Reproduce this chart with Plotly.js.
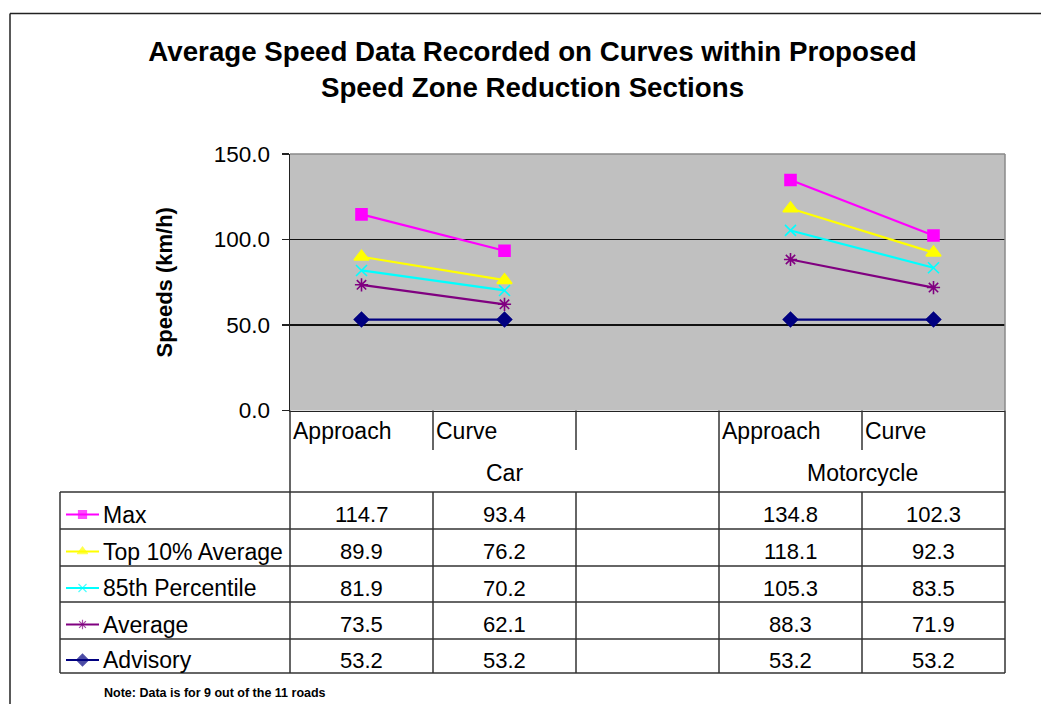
<!DOCTYPE html>
<html>
<head>
<meta charset="utf-8">
<script src="https://cdn.plot.ly/plotly-3.0.1.min.js"></script>
<style>html,body{margin:0;padding:0;background:#fff;}#chart{width:1041px;height:704px;}</style>
</head>
<body>
<div id="chart"></div>
<script>
// ---- data ----
var categories = ['Approach', 'Curve', '', 'Approach', 'Curve'];
var groups = ['Car', 'Car', 'Car', 'Motorcycle', 'Motorcycle'];
var seriesNames = ['Max', 'Top 10% Average', '85th Percentile', 'Average', 'Advisory'];
var maxSpeeds = [114.7, 93.4, null, 134.8, 102.3];
var top10Speeds = [89.9, 76.2, null, 118.1, 92.3];
var p85Speeds = [81.9, 70.2, null, 105.3, 83.5];
var avgSpeeds = [73.5, 62.1, null, 88.3, 71.9];
var advisorySpeeds = [53.2, 53.2, null, 53.2, 53.2];
var yTicks = [0, 50, 100, 150];

// ---- styles ----
var seriesValues = [maxSpeeds, top10Speeds, p85Speeds, avgSpeeds, advisorySpeeds];
var styles = [
  {color: '#FF00FF', symbol: 'square', size: 11, keySize: 8},
  {color: '#FFFF00', symbol: 'triangle-up', size: 13, keySize: 9},
  {color: '#00FFFF', symbol: 'x-thin-open', size: 11, keySize: 8},
  {color: '#800080', symbol: 'asterisk-open', size: 11, keySize: 8},
  {color: '#000080', symbol: 'diamond', size: 11, keySize: 9}
];
var FONT = 'Liberation Sans, Arial, sans-serif';
var TXT = 23, NUM = 22;
var W = 1041, H = 704;
function X(p) { return p / W; }
function Y(p) { return 1 - p / H; }

// layout geometry (pixels)
var plotL = 290, plotR = 1005, plotT = 154, plotB = 410.5;
var tableL = 60, headDiv = 450, tableTop = 492;
var rowLines = [492, 529, 566, 602, 639, 673];
var lineCol = '#333333';

var xIdx = categories.map(function (c, i) { return i; });
var traces = [];
seriesNames.forEach(function (name, i) {
  var st = styles[i];
  traces.push({
    type: 'scatter', mode: 'lines+markers', name: name,
    x: xIdx, y: seriesValues[i], connectgaps: false,
    line: {color: st.color, width: 2.2},
    marker: {symbol: st.symbol, size: st.size, color: st.color, line: {color: st.color, width: 1.6}},
    xaxis: 'x', yaxis: 'y', showlegend: false, hoverinfo: 'x+y'
  });
});

var shapes = [];
var annotations = [];
// gray plot area (drawn as shape so the table overlay stays white)
shapes.push({type: 'rect', xref: 'paper', yref: 'paper', x0: X(plotL), x1: X(plotR), y0: Y(plotB), y1: Y(plotT),
  fillcolor: '#C0C0C0', line: {width: 0}, layer: 'below'});

// legend keys inside the data table (overlay axes in pixel units)
seriesNames.forEach(function (name, i) {
  var st = styles[i];
  var cy = (rowLines[i] + rowLines[i + 1]) / 2 + 4;
  traces.push({
    type: 'scatter', mode: 'lines+markers', x: [66, 82.5, 99], y: [cy, cy, cy],
    line: {color: st.color, width: 2},
    marker: {symbol: st.symbol, size: [0, st.keySize, 0], color: st.color, line: {color: st.color, width: 1.2}},
    xaxis: 'x2', yaxis: 'y2', showlegend: false, hoverinfo: 'skip'
  });
  annotations.push({
    xref: 'paper', yref: 'paper', x: X(101), y: Y(cy), xanchor: 'left', yanchor: 'middle',
    text: name, showarrow: false, font: {family: FONT, size: TXT, color: '#000'}
  });
  seriesValues[i].forEach(function (v, j) {
    if (v === null) return;
    annotations.push({
      xref: 'x', yref: 'paper', x: j, y: Y(cy), xanchor: 'center', yanchor: 'middle',
      text: v.toFixed(1), showarrow: false, font: {family: FONT, size: NUM, color: '#000'}
    });
  });
});

// category labels
categories.forEach(function (c, j) {
  if (!c) return;
  annotations.push({
    xref: 'x', yref: 'paper', x: j - 0.5, xshift: 1, y: Y(431), xanchor: 'left', yanchor: 'middle',
    text: c, showarrow: false, font: {family: FONT, size: TXT, color: '#000'}
  });
});
// group labels
var groupSpans = [];
groups.forEach(function (g, j) {
  var last = groupSpans[groupSpans.length - 1];
  if (last && last.name === g) { last.end = j; } else { groupSpans.push({name: g, start: j, end: j}); }
});
groupSpans.forEach(function (gs) {
  annotations.push({
    xref: 'x', yref: 'paper', x: (gs.start + gs.end) / 2, y: Y(473), xanchor: 'center', yanchor: 'middle',
    text: gs.name, showarrow: false, font: {family: FONT, size: TXT, color: '#000'}
  });
});
// note
annotations.push({
  xref: 'paper', yref: 'paper', x: X(102), y: Y(693), xanchor: 'left', yanchor: 'middle',
  text: 'Note: Data is for 9 out of the 11 roads', showarrow: false,
  font: {family: FONT, size: 12.5, color: '#000', weight: 'bold'}
});

// ---- lines: frame, plot border, table grid ----
function hline(y, x0, x1, col, w) {
  shapes.push({type: 'line', xref: 'paper', yref: 'paper', x0: X(x0), x1: X(x1), y0: Y(y), y1: Y(y),
    line: {color: col || lineCol, width: w || 1.5}, layer: 'above'});
}
function vline(x, y0, y1, col, w) {
  shapes.push({type: 'line', xref: 'paper', yref: 'paper', x0: X(x), x1: X(x), y0: Y(y0), y1: Y(y1),
    line: {color: col || lineCol, width: w || 1.5}, layer: 'above'});
}
// outer chart frame
hline(13.5, 10, 1060, '#222', 1.5);
vline(10, 13.5, 720, '#222', 1.5);
// plot area gray border (top/right)
hline(plotT, plotL, plotR, '#8a8a8a', 1.5);
vline(plotR, plotT, plotB, '#8a8a8a', 1.5);
// column boundaries from the category positions
var colEdges = [];
for (var k = 0; k <= categories.length; k++) { colEdges.push(plotL + (plotR - plotL) * k / categories.length); }
var groupEdgeIdx = {};
groupSpans.forEach(function (gs) { groupEdgeIdx[gs.start] = true; groupEdgeIdx[gs.end + 1] = true; });
colEdges.forEach(function (xp, k) {
  if (groupEdgeIdx[k]) { vline(xp, plotB, rowLines[rowLines.length - 1]); }
  else { vline(xp, plotB, headDiv); vline(xp, tableTop, rowLines[rowLines.length - 1]); }
});
vline(tableL, tableTop, rowLines[rowLines.length - 1]);
rowLines.forEach(function (yp) { hline(yp, tableL, plotR); });

var layout = {
  width: W, height: H,
  margin: {l: 0, r: 0, t: 0, b: 0},
  paper_bgcolor: '#ffffff',
  plot_bgcolor: 'rgba(0,0,0,0)',
  showlegend: false,
  font: {family: FONT, color: '#000'},
  title: {
    text: 'Average Speed Data Recorded on Curves within Proposed<br>Speed Zone Reduction Sections',
    x: X(532.5), xanchor: 'center', xref: 'paper', y: Y(61), yanchor: 'top', yref: 'paper',
    font: {family: FONT, size: 27.7, color: '#000', weight: 'bold'}
  },
  xaxis: {
    domain: [X(plotL), X(plotR)], range: [-0.5, categories.length - 0.5],
    showgrid: false, zeroline: false, showticklabels: false, ticks: '',
    showline: true, linecolor: '#222', linewidth: 1.5, fixedrange: true
  },
  yaxis: {
    domain: [Y(plotB), Y(plotT)], range: [0, 150],
    tickvals: yTicks, tickformat: '.1f', ticks: 'outside', ticklen: 7, tickwidth: 1.5, tickcolor: '#222',
    ticklabelstandoff: 7,
    showgrid: true, gridcolor: '#111', gridwidth: 1.5, zeroline: false,
    showline: true, linecolor: '#222', linewidth: 1.5,
    tickfont: {family: FONT, size: 22.5, color: '#000'},
    title: {text: 'Speeds (km/h)', standoff: 35, font: {family: FONT, size: 22, color: '#000', weight: 'bold'}},
    fixedrange: true
  },
  xaxis2: {domain: [X(tableL), X(plotL)], range: [tableL, plotL], visible: false, anchor: 'y2', fixedrange: true},
  yaxis2: {domain: [Y(673), Y(492)], range: [673, 492], visible: false, anchor: 'x2', fixedrange: true},
  shapes: shapes,
  annotations: annotations
};

Plotly.newPlot('chart', traces, layout, {displayModeBar: false, staticPlot: true});
</script>
</body>
</html>
